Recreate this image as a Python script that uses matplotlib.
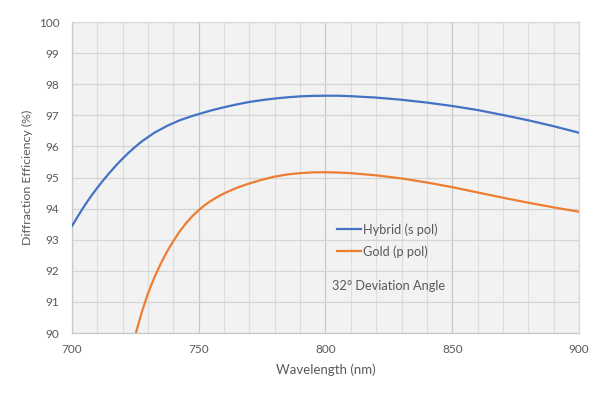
import numpy as np
import matplotlib
matplotlib.use('Agg')
import matplotlib.pyplot as plt
from matplotlib.ticker import MultipleLocator

plt.rcParams['font.family'] = ['Lato', 'DejaVu Sans']

# Values
hybrid_nm = [700, 702.5, 705, 707.5, 710, 712.5, 715, 717.5, 720, 722.5, 725, 727.5,
             730, 732.5, 735, 737.5, 740, 742.5, 745, 747.5, 750, 755, 760, 765, 770,
             775, 780, 785, 790, 795, 800, 805, 810, 820, 830, 840, 850, 860, 870, 880,
             890, 900]
hybrid_eff = [93.44, 93.78, 94.10, 94.40, 94.67, 94.93, 95.17, 95.40, 95.61, 95.81,
              95.99, 96.16, 96.30, 96.44, 96.55, 96.66, 96.75, 96.84, 96.91, 96.98,
              97.04, 97.16, 97.26, 97.35, 97.43, 97.49, 97.54, 97.58, 97.61, 97.625,
              97.63, 97.63, 97.615, 97.57, 97.50, 97.41, 97.30, 97.17, 97.01, 96.84,
              96.65, 96.44]

gold_nm = [725.2, 727.5, 730, 732.5, 735, 737.5, 740, 742.5, 745, 747.5, 750, 752.5,
           755, 757.5, 760, 765, 770, 775, 780, 785, 790, 795, 800, 805, 810, 820, 830,
           840, 850, 860, 870, 880, 890, 900]
gold_eff = [90.00, 90.66, 91.28, 91.79, 92.23, 92.62, 92.96, 93.27, 93.53, 93.76,
            93.95, 94.12, 94.26, 94.38, 94.49, 94.67, 94.81, 94.93, 95.03, 95.10,
            95.14, 95.165, 95.17, 95.16, 95.14, 95.07, 94.97, 94.84, 94.69, 94.52,
            94.35, 94.19, 94.04, 93.90]

series_labels = ['Hybrid (s pol)', 'Gold (p pol)']
note = '32° Deviation Angle'

text_col = '#595959'

fig = plt.figure(figsize=(6.04, 3.94), dpi=100)
ax = fig.add_axes([0.1192, 0.1548, 0.8394, 0.7893])
ax.set_facecolor('#F2F2F2')

ax.plot(hybrid_nm, hybrid_eff, color='#4472C4', lw=1.6, label=series_labels[0],
        solid_joinstyle='round', zorder=3)
ax.plot(gold_nm, gold_eff, color='#ED7D31', lw=1.6, label=series_labels[1],
        solid_joinstyle='round', zorder=3)

ax.set_xlim(700, 900)
ax.set_ylim(90, 100)
ax.xaxis.set_major_locator(MultipleLocator(50))
ax.xaxis.set_minor_locator(MultipleLocator(10))
ax.yaxis.set_major_locator(MultipleLocator(1))

# gridlines: light minor verticals, darker majors
ax.grid(which='minor', axis='x', color='#DDDDDD', lw=0.8, zorder=0)
ax.grid(which='major', axis='x', color='#C8C8C8', lw=0.9, zorder=0)
ax.grid(which='major', axis='y', color='#D4D4D4', lw=0.9, zorder=0)
ax.set_axisbelow(True)

for side in ['top', 'right']:
    ax.spines[side].set_color('#D9D9D9')
for side in ['left', 'bottom']:
    ax.spines[side].set_color('#C8C8C8')
for sp in ax.spines.values():
    sp.set_linewidth(0.9)

ax.tick_params(which='both', length=0, labelsize=8.5, labelcolor=text_col)
ax.tick_params(axis='y', pad=9)
ax.tick_params(axis='x', pad=8)

ax.set_xlabel('Wavelength (nm)', fontsize=9.5, color=text_col, labelpad=6)
ax.set_ylabel('Diffraction Efficiency (%)', fontsize=8.9, color=text_col, labelpad=4)

leg = ax.legend(loc='center left', bbox_to_anchor=(0.5227, 0.2974), frameon=False,
                borderpad=0, borderaxespad=0, handlelength=1.9, handletextpad=0.15,
                labelspacing=0.75, fontsize=9.2)
for t in leg.get_texts():
    t.set_color(text_col)

ax.text(824.7, 91.51, note, ha='center', va='center', fontsize=9.2, color=text_col)

fig.savefig('out.png', dpi=100)
